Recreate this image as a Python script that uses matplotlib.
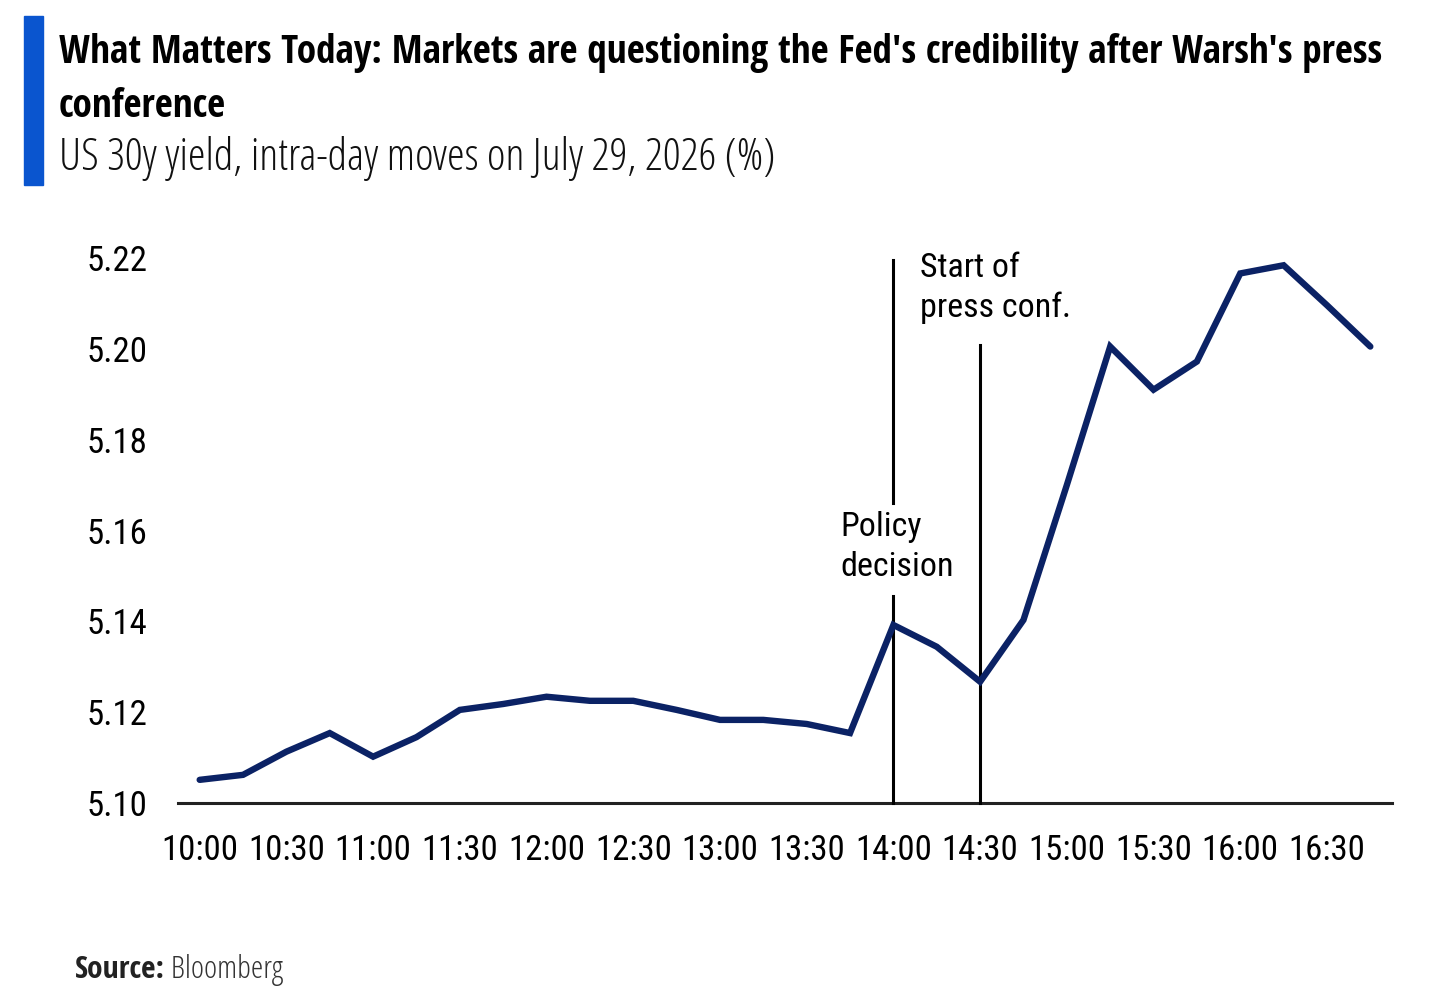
import matplotlib
matplotlib.use('Agg')
import matplotlib.pyplot as plt
import numpy as np

# US 30y yield, every 15 minutes, July 29 2026
times = ['10:00', '10:15', '10:30', '10:45', '11:00', '11:15', '11:30', '11:45',
         '12:00', '12:15', '12:30', '12:45', '13:00', '13:15', '13:30', '13:45',
         '14:00', '14:15', '14:30', '14:45', '15:00', '15:15', '15:30', '15:45',
         '16:00', '16:15', '16:30', '16:45']
yields = [5.1051, 5.1062, 5.1113, 5.1154, 5.1102, 5.1145, 5.1205, 5.1218,
          5.1234, 5.1225, 5.1225, 5.1205, 5.1183, 5.1183, 5.1174, 5.1154,
          5.1392, 5.1344, 5.1267, 5.1403, 5.1700, 5.2005, 5.1910, 5.1972,
          5.2166, 5.2184, 5.2096, 5.2005]
tick_labels = times[::2]
y_ticks = [5.10, 5.12, 5.14, 5.16, 5.18, 5.20, 5.22]

policy_time = '14:00'
press_time = '14:30'

NAVY = '#0b2265'
BLUE = '#0a55cf'
COND = ['Roboto Condensed', 'Liberation Sans', 'DejaVu Sans']
TITLE = ['Open Sans Condensed', 'Liberation Sans', 'DejaVu Sans']
LIGHT = ['Open Sans', 'Liberation Sans', 'DejaVu Sans']

W, H = 1439, 1008
fig = plt.figure(figsize=(W / 100, H / 100), dpi=100)
fig.patch.set_facecolor('white')


def fx(px):
    return px / W


def fy(py):
    return 1 - py / H


ax = fig.add_axes([fx(178), fy(803), fx(1392) - fx(178), fy(258) - fy(803)])
x = np.arange(len(times))
ax.plot(x, yields, color=NAVY, lw=4.6, solid_joinstyle='miter', solid_capstyle='round', zorder=5, clip_on=False)

ax.set_xlim(-0.5, len(times) - 0.5)
ax.set_ylim(5.10, 5.22)
ax.set_xticks(x[::2])
ax.set_xticklabels(tick_labels)
ax.set_yticks(y_ticks)
ax.set_yticklabels(['%.2f' % v for v in y_ticks])
ax.tick_params(length=0, labelsize=25, colors='black')
ax.tick_params(axis='y', pad=22)
ax.tick_params(axis='x', pad=22)
for lab in ax.get_xticklabels() + ax.get_yticklabels():
    lab.set_family(COND)
for s in ['top', 'right', 'left']:
    ax.spines[s].set_visible(False)
ax.spines['bottom'].set_color('#222222')
ax.spines['bottom'].set_linewidth(2.2)
ax.set_facecolor('none')

# event markers
ip = times.index(policy_time)
ipc = times.index(press_time)
ax.plot([ip, ip], [5.10, 5.1455], color='black', lw=2.2, zorder=3, clip_on=False)
ax.plot([ip, ip], [5.1660, 5.2196], color='black', lw=2.2, zorder=3, clip_on=False)
ax.plot([ipc, ipc], [5.10, 5.2009], color='black', lw=2.2, zorder=3, clip_on=False)
ax.text(ip - 1.22, 5.1564, 'Policy\ndecision', ha='left', va='center', fontsize=24.5,
        family=COND, linespacing=1.3)
ax.text(ip + 0.62, 5.2134, 'Start of\npress conf.', ha='left', va='center', fontsize=24.5,
        family=COND, linespacing=1.3)

# header
fig.patches.append(plt.Rectangle((fx(24), fy(185)), fx(43) - fx(24), fy(16) - fy(185),
                                 transform=fig.transFigure, color=BLUE))
t1 = fig.text(fx(59), fy(63), "What Matters Today: Markets are questioning the Fed's credibility after Warsh's press",
              fontsize=24, weight='bold', family=TITLE, va='baseline')
t2 = fig.text(fx(59), fy(117), 'conference', fontsize=24, weight='bold', family=TITLE, va='baseline')
t3 = fig.text(fx(59), fy(170), 'US 30y yield, intra-day moves on July 29, 2026 (%)', fontsize=24,
              weight=300, stretch='condensed', family=LIGHT, va='baseline', color='#111111')
s1 = fig.text(fx(75), fy(978), 'Source:', fontsize=18, weight='bold', family=TITLE, va='baseline', color='#222222')
s2 = fig.text(fx(75), fy(978), ' Bloomberg', fontsize=18, weight=300, stretch='condensed', family=LIGHT,
              va='baseline', color='#333333')

# fit header text widths to the reference
fig.canvas.draw()
r = fig.canvas.get_renderer()
k = 1324 / t1.get_window_extent(r).width
t1.set_fontsize(24 * k)
t2.set_fontsize(24 * k)
t3.set_fontsize(24 * 718 / t3.get_window_extent(r).width)
ks = 208 / (s1.get_window_extent(r).width + s2.get_window_extent(r).width)
s1.set_fontsize(18 * ks)
s2.set_fontsize(18 * ks)
fig.canvas.draw()
s2.set_x(fx(75) + s1.get_window_extent(r).width / W)

fig.savefig('out.png', dpi=100)
